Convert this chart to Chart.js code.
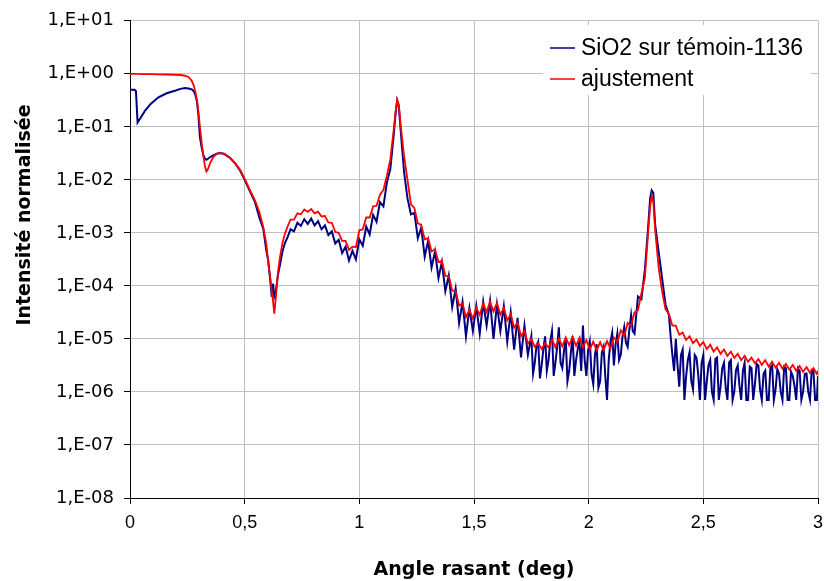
<!DOCTYPE html>
<html>
<head>
<meta charset="utf-8">
<script src="https://cdn.jsdelivr.net/npm/chart.js@4.4.1/dist/chart.umd.min.js"></script>
<style>
  html, body { margin: 0; padding: 0; background: #fff; }
</style>
</head>
<body>
<canvas id="reflecto" width="824" height="581"></canvas>
<script>
// Angle rasant (deg)
const angles = [
  0.000, 0.010, 0.020, 0.026, 0.033, 0.045, 0.065, 0.090, 0.124, 0.160,
  0.196, 0.220, 0.240, 0.255, 0.269, 0.278, 0.285, 0.292, 0.298, 0.305,
  0.313, 0.320, 0.327, 0.333, 0.340, 0.350, 0.363, 0.378, 0.392, 0.410,
  0.436, 0.460, 0.480, 0.500, 0.520, 0.545, 0.565, 0.581, 0.595, 0.603,
  0.612, 0.618, 0.624, 0.629, 0.636, 0.645, 0.654, 0.665, 0.676, 0.688,
  0.700, 0.715, 0.730, 0.745, 0.760, 0.775, 0.790, 0.805, 0.820, 0.835,
  0.850, 0.865, 0.880, 0.895, 0.910, 0.925, 0.940, 0.955, 0.970, 0.985,
  1.000, 1.015, 1.030, 1.045, 1.060, 1.075, 1.090, 1.105, 1.120, 1.135,
  1.150, 1.158, 1.165, 1.172, 1.180, 1.195, 1.210, 1.225, 1.240, 1.255, 1.270, 1.285,
  1.300, 1.315, 1.330, 1.345, 1.360, 1.375, 1.390, 1.405, 1.420, 1.435,
  1.450, 1.465, 1.480, 1.495, 1.510, 1.525, 1.540, 1.555, 1.570, 1.585,
  1.600, 1.615, 1.630, 1.645, 1.660, 1.675, 1.690, 1.705, 1.720, 1.735,
  1.750, 1.7575, 1.765, 1.7725, 1.780, 1.7875, 1.795, 1.8025, 1.810, 1.8175,
  1.825, 1.8325, 1.840, 1.8475, 1.855, 1.8625, 1.870, 1.8775, 1.885, 1.8925,
  1.900, 1.9075, 1.915, 1.9225, 1.930, 1.9375, 1.945, 1.9525, 1.960, 1.9675,
  1.975, 1.9825, 1.990, 1.9975, 2.005, 2.0125, 2.020, 2.0275, 2.035, 2.0425,
  2.050, 2.0575, 2.065, 2.0725, 2.080, 2.0875, 2.095, 2.1025, 2.110, 2.1175,
  2.125, 2.1325, 2.140, 2.1475, 2.155, 2.1625, 2.170, 2.1775, 2.185, 2.1925,
  2.200, 2.215, 2.230, 2.245, 2.260, 2.268, 2.275, 2.282, 2.290, 2.305, 2.320, 2.335,
  2.350, 2.3575, 2.365, 2.3725, 2.380, 2.3875, 2.395, 2.4025, 2.410, 2.4175,
  2.425, 2.4325, 2.440, 2.4475, 2.455, 2.4625, 2.470, 2.4775, 2.485, 2.4925,
  2.500, 2.5075, 2.515, 2.5225, 2.530, 2.5375, 2.545, 2.5525, 2.560, 2.5675,
  2.575, 2.5825, 2.590, 2.5975, 2.605, 2.6125, 2.620, 2.6275, 2.635, 2.6425,
  2.650, 2.6575, 2.665, 2.6725, 2.680, 2.6875, 2.695, 2.7025, 2.710, 2.7175,
  2.725, 2.7325, 2.740, 2.7475, 2.755, 2.7625, 2.770, 2.7775, 2.785, 2.7925,
  2.800, 2.8075, 2.815, 2.8225, 2.830, 2.8375, 2.845, 2.8525, 2.860, 2.8675,
  2.875, 2.8825, 2.890, 2.8975, 2.905, 2.9125, 2.920, 2.9275, 2.935, 2.9425,
  2.950, 2.9575, 2.965, 2.9725, 2.980, 2.9875, 2.995, 3.000
];

// mesure : SiO2 sur témoin-1136
const mesureSiO2 = [
  0.5, 0.5, 0.5, 0.47, 0.12, 0.145, 0.2, 0.27, 0.36, 0.43,
  0.48, 0.52, 0.54, 0.53, 0.51, 0.47, 0.40, 0.30, 0.17, 0.063,
  0.040, 0.029, 0.025, 0.024, 0.025, 0.027, 0.029, 0.031, 0.032, 0.031,
  0.026, 0.020, 0.0150, 0.0100, 0.0065, 0.0038, 0.0019, 0.0012, 4.5e-4, 3.0e-4,
  1.2e-4, 6.3e-5, 1.1e-4, 6.3e-5, 8.0e-5, 1.6e-4, 2.5e-4, 4.5e-4, 6.5e-4, 8.5e-4,
  1.17e-3, 1.07e-3, 1.55e-3, 1.35e-3, 1.82e-3, 1.48e-3, 1.86e-3, 1.38e-3, 1.66e-3, 1.17e-3,
  1.38e-3, 9.12e-4, 1.07e-3, 6.31e-4, 7.41e-4, 4.17e-4, 5.50e-4, 3.02e-4, 4.57e-4, 3.16e-4,
  7.59e-4, 5.75e-4, 1.32e-3, 9.33e-4, 2.19e-3, 1.62e-3, 3.80e-3, 3.16e-3, 8.91e-3, 1.58e-2,
  7.08e-2, 1.78e-1, 3.16e-1, 2.51e-1, 8.91e-2, 1.41e-2, 4.47e-3, 2.24e-3, 2.40e-3, 7.94e-4, 1.26e-3, 3.55e-4,
  7.08e-4, 2.24e-4, 4.47e-4, 1.41e-4, 2.82e-4, 7.94e-5, 1.58e-4, 3.98e-5, 8.91e-5, 2.00e-5,
  5.01e-5, 1.12e-5, 3.80e-5, 1.41e-5, 4.17e-5, 1.26e-5, 5.01e-5, 1.78e-5, 5.25e-5, 1.00e-5,
  4.47e-5, 1.41e-5, 4.17e-5, 8.91e-6, 3.16e-5, 6.31e-6, 2.51e-5, 4.47e-6, 1.78e-5, 5.01e-6,
  1.12e-5, 2.2e-6, 3.55e-6, 7.5e-6, 8.91e-6, 1.8e-6, 3.16e-6, 6.5e-6, 1.12e-5, 2.5e-6,
  3.98e-6, 9.0e-6, 1.41e-5, 2.0e-6, 3.55e-6, 7.0e-6, 1.66e-5, 3.5e-6, 2.82e-6, 6.0e-6,
  1.00e-5, 1.6e-6, 2.51e-6, 5.5e-6, 1.12e-5, 2.0e-6, 3.98e-6, 6.5e-6, 8.91e-6, 2.5e-6,
  1.78e-5, 4.0e-6, 2.00e-6, 6.0e-6, 8.91e-6, 2.2e-6, 1.41e-6, 5.0e-6, 7.94e-6, 1.2e-6,
  1.58e-6, 5.5e-6, 7.08e-6, 2.0e-6, 7.08e-7, 4.0e-6, 8.91e-6, 1.3e-5, 3.16e-6, 8.0e-6,
  1.26e-5, 4.0e-6, 5.01e-6, 1.1e-5, 1.66e-5, 8.5e-6, 7.08e-6, 1.5e-5, 2.82e-5, 1.4e-5,
  1.26e-5, 6.31e-5, 5.62e-5, 2.00e-4, 1.41e-3, 4.47e-3, 6.31e-3, 5.62e-3, 1.41e-3, 4.47e-4, 1.41e-4, 4.47e-5,
  2.82e-5, 1.1e-5, 5.01e-6, 2.5e-6, 1.00e-5, 3.2e-6, 1.26e-6, 5.0e-6, 6.31e-6, 7.08e-7,
  2.00e-6, 4.0e-6, 5.62e-6, 1.6e-6, 1.12e-6, 5.0e-6, 4.47e-6, 2.2e-6, 7.08e-7, 3.5e-6,
  5.01e-6, 7.08e-7, 1.58e-6, 3.2e-6, 3.98e-6, 1.0e-6, 7.08e-7, 4.2e-6, 4.47e-6, 7.08e-7,
  1.26e-6, 2.8e-6, 3.55e-6, 1.2e-6, 7.08e-7, 3.6e-6, 3.98e-6, 7.08e-7, 1.00e-6, 2.6e-6,
  3.16e-6, 1.3e-6, 7.08e-7, 2.5e-6, 3.55e-6, 7.08e-7, 7.08e-7, 3.0e-6, 2.82e-6, 7.08e-7,
  1.41e-6, 3.4e-6, 3.16e-6, 1.1e-6, 7.08e-7, 2.2e-6, 2.51e-6, 7.08e-7, 7.08e-7, 2.9e-6,
  3.16e-6, 7.08e-7, 1.12e-6, 2.7e-6, 2.24e-6, 1.0e-6, 7.08e-7, 3.0e-6, 2.82e-6, 7.08e-7,
  7.08e-7, 2.4e-6, 2.00e-6, 1.3e-6, 7.08e-7, 2.8e-6, 2.51e-6, 7.08e-7, 1.00e-6, 2.2e-6,
  2.24e-6, 1.0e-6, 7.08e-7, 2.6e-6, 2.51e-6, 7.08e-7, 7.08e-7, 2.00e-6
];

// ajustement (simulation)
const ajustement = [
  1.0, 1.0, 1.0, 1.0, 0.995, 0.99, 0.99, 0.985, 0.98, 0.97,
  0.96, 0.95, 0.92, 0.87, 0.74, 0.6, 0.46, 0.32, 0.2, 0.1,
  0.048, 0.028, 0.018, 0.0144, 0.016, 0.021, 0.027, 0.031, 0.032, 0.031,
  0.026, 0.020, 0.0155, 0.0105, 0.0068, 0.0041, 0.0024, 0.0013, 6.0e-4, 2.6e-4,
  1.4e-4, 8.0e-5, 5.0e-5, 3.0e-5, 6.0e-5, 1.8e-4, 3.5e-4, 6.5e-4, 9.8e-4, 1.35e-3,
  1.78e-3, 1.78e-3, 2.34e-3, 2.24e-3, 2.75e-3, 2.48e-3, 2.82e-3, 2.34e-3, 2.51e-3, 2.04e-3,
  2.09e-3, 1.58e-3, 1.55e-3, 1.05e-3, 1.00e-3, 7.08e-4, 7.08e-4, 4.79e-4, 5.50e-4, 5.37e-4,
  1.12e-3, 1.17e-3, 1.95e-3, 1.95e-3, 3.16e-3, 3.24e-3, 5.25e-3, 6.46e-3, 1.20e-2, 2.40e-2,
  8.91e-2, 1.91e-1, 3.24e-1, 2.63e-1, 1.12e-1, 2.82e-2, 1.00e-2, 3.47e-3, 2.95e-3, 1.51e-3, 1.41e-3, 7.59e-4,
  7.94e-4, 4.47e-4, 4.90e-4, 2.82e-4, 2.95e-4, 1.55e-4, 1.55e-4, 8.13e-5, 7.94e-5, 4.27e-5,
  4.68e-5, 2.57e-5, 3.55e-5, 2.40e-5, 3.89e-5, 2.82e-5, 4.68e-5, 3.24e-5, 5.01e-5, 3.31e-5,
  4.79e-5, 2.88e-5, 3.89e-5, 2.24e-5, 2.95e-5, 1.62e-5, 2.04e-5, 1.12e-5, 1.41e-5, 8.13e-6,
  1.00e-5, 8.41e-6, 7.08e-6, 7.67e-6, 8.32e-6, 7.33e-6, 6.46e-6, 7.33e-6, 8.32e-6, 7.59e-6,
  6.92e-6, 7.94e-6, 9.77e-6, 8.22e-6, 6.92e-6, 8.41e-6, 1.02e-5, 8.61e-6, 7.24e-6, 8.81e-6,
  1.07e-5, 9.02e-6, 7.59e-6, 9.12e-6, 1.10e-5, 9.02e-6, 7.41e-6, 8.81e-6, 1.05e-5, 8.51e-6,
  6.92e-6, 8.13e-6, 9.55e-6, 7.76e-6, 6.31e-6, 7.50e-6, 8.91e-6, 7.33e-6, 6.03e-6, 7.24e-6,
  8.71e-6, 7.33e-6, 6.17e-6, 7.50e-6, 9.12e-6, 7.76e-6, 6.61e-6, 8.41e-6, 1.07e-5, 9.66e-6,
  8.71e-6, 1.12e-5, 1.45e-5, 1.29e-5, 1.15e-5, 1.51e-5, 2.00e-5, 1.86e-5, 1.74e-5, 2.40e-5,
  3.16e-5, 3.47e-5, 7.24e-5, 1.41e-4, 1.12e-3, 3.16e-3, 5.01e-3, 3.80e-3, 1.12e-3, 2.24e-4, 7.94e-5, 3.63e-5,
  2.95e-5, 2.29e-5, 1.78e-5, 1.78e-5, 1.78e-5, 1.46e-5, 1.20e-5, 1.26e-5, 1.32e-5, 1.12e-5,
  9.55e-6, 1.04e-5, 1.12e-5, 9.66e-6, 8.32e-6, 9.00e-6, 9.77e-6, 8.51e-6, 7.41e-6, 8.04e-6,
  8.71e-6, 7.50e-6, 6.46e-6, 7.08e-6, 7.76e-6, 6.68e-6, 5.75e-6, 6.31e-6, 6.92e-6, 6.03e-6,
  5.25e-6, 5.75e-6, 6.31e-6, 5.50e-6, 4.79e-6, 5.25e-6, 5.75e-6, 5.01e-6, 4.37e-6, 4.79e-6,
  5.25e-6, 4.57e-6, 3.98e-6, 4.37e-6, 4.79e-6, 4.22e-6, 3.72e-6, 4.07e-6, 4.47e-6, 3.94e-6,
  3.47e-6, 3.80e-6, 4.17e-6, 3.67e-6, 3.24e-6, 3.59e-6, 3.98e-6, 3.47e-6, 3.02e-6, 3.35e-6,
  3.72e-6, 3.27e-6, 2.88e-6, 3.20e-6, 3.55e-6, 3.13e-6, 2.75e-6, 3.05e-6, 3.39e-6, 2.99e-6,
  2.63e-6, 2.92e-6, 3.24e-6, 2.85e-6, 2.51e-6, 2.79e-6, 3.09e-6, 2.72e-6, 2.40e-6, 2.66e-6,
  2.95e-6, 2.60e-6, 2.29e-6, 2.54e-6, 2.82e-6, 2.48e-6, 2.19e-6, 2.51e-6
];

const seriesNames = ['SiO2 sur témoin-1136', 'ajustement'];
const xTickLabels = ['0', '0,5', '1', '1,5', '2', '2,5', '3'];
const yTickValues = [1e-8, 1e-7, 1e-6, 1e-5, 1e-4, 1e-3, 1e-2, 1e-1, 1, 10];
const yTickLabels = ['1,E-08', '1,E-07', '1,E-06', '1,E-05', '1,E-04', '1,E-03', '1,E-02', '1,E-01', '1,E+00', '1,E+01'];

const COLORS = {
  mesure: '#000080',
  fit:    '#ff0000',
  grid:   '#c0c0c0',
  axis:   '#000000',
};

// fond blanc du canvas
const whiteBg = {
  id: 'whiteBg',
  beforeDraw(chart) {
    const c = chart.ctx;
    c.save();
    c.fillStyle = '#fff';
    c.fillRect(0, 0, chart.width, chart.height);
    c.restore();
  }
};

// legende style Excel : cadre blanc dans la zone de tracé
const legendBox = {
  id: 'legendBox',
  afterDatasetsDraw(chart) {
    const c = chart.ctx;
    const rows = [
      { base: 55, mid: 48, color: COLORS.mesure, text: seriesNames[0] },
      { base: 86, mid: 79, color: COLORS.fit,    text: seriesNames[1] },
    ];
    c.save();
    c.fillStyle = '#fff';
    c.fillRect(543, 25, 268, 70);
    c.font = '23px "Liberation Sans", Arial, sans-serif';
    c.textBaseline = 'alphabetic';
    c.textAlign = 'left';
    rows.forEach(r => {
      c.strokeStyle = r.color;
      c.lineWidth = 1.5;
      c.beginPath();
      c.moveTo(550, r.mid);
      c.lineTo(575, r.mid);
      c.stroke();
      c.fillStyle = '#000';
      c.fillText(r.text, 581, r.base);
    });
    c.restore();
  }
};

// titre de l'axe Y (décalé vers le haut comme dans Excel)
const yTitle = {
  id: 'yTitle',
  afterDraw(chart) {
    const c = chart.ctx;
    c.save();
    c.translate(25, 215);
    c.rotate(-Math.PI / 2);
    c.font = 'bold 19px "DejaVu Sans", sans-serif';
    c.fillStyle = '#000';
    c.textAlign = 'center';
    c.textBaseline = 'middle';
    c.fillText('Intensité normalisée', 0, 0);
    c.restore();
  }
};

const ctx = document.getElementById('reflecto').getContext('2d');
new Chart(ctx, {
  type: 'line',
  data: {
    datasets: [
      {
        label: seriesNames[0],
        data: angles.map((a, i) => ({ x: a, y: mesureSiO2[i] })),
        borderColor: COLORS.mesure,
        borderWidth: 2,
        pointRadius: 0,
        tension: 0,
        order: 1,
      },
      {
        label: seriesNames[1],
        data: angles.map((a, i) => ({ x: a, y: ajustement[i] })),
        borderColor: COLORS.fit,
        borderWidth: 1.8,
        pointRadius: 0,
        tension: 0,
        order: 0,
      },
    ]
  },
  options: {
    responsive: false,
    animation: false,
    layout: { padding: { left: 0, right: 6, top: 19, bottom: 0 } },
    plugins: {
      legend:  { display: false },
      tooltip: { enabled: false },
    },
    scales: {
      x: {
        type: 'linear',
        min: 0,
        max: 3,
        afterFit: s => { s.height = 83; s.paddingLeft = 0; s.paddingRight = 0; },
        ticks: {
          stepSize: 0.5,
          autoSkip: false,
          maxRotation: 0,
          padding: 8,
          color: '#000',
          font: { family: '"Liberation Sans", Arial, sans-serif', size: 18 },
          callback: (v, i) => xTickLabels[i],
        },
        grid:   { color: COLORS.grid, tickColor: COLORS.axis, tickLength: 6 },
        border: { color: COLORS.axis, width: 1 },
        title: {
          display: true,
          text: 'Angle rasant (deg)',
          color: '#000',
          font: { family: '"DejaVu Sans", sans-serif', size: 19, weight: 'bold' },
          padding: { top: 0, bottom: 0 },
        },
      },
      y: {
        type: 'logarithmic',
        min: 1e-8,
        max: 10,
        afterFit: s => { s.width = 130; },
        afterBuildTicks: s => { s.ticks = yTickValues.map(v => ({ value: v })); },
        ticks: {
          autoSkip: false,
          padding: 10,
          color: '#000',
          font: { family: '"DejaVu Sans", sans-serif', size: 18 },
          callback: (v, i) => yTickLabels[i],
        },
        grid:   { color: COLORS.grid, tickColor: COLORS.axis, tickLength: 6 },
        border: { color: COLORS.axis, width: 1 },
      },
    },
  },
  plugins: [whiteBg, legendBox, yTitle],
});
</script>
</body>
</html>
